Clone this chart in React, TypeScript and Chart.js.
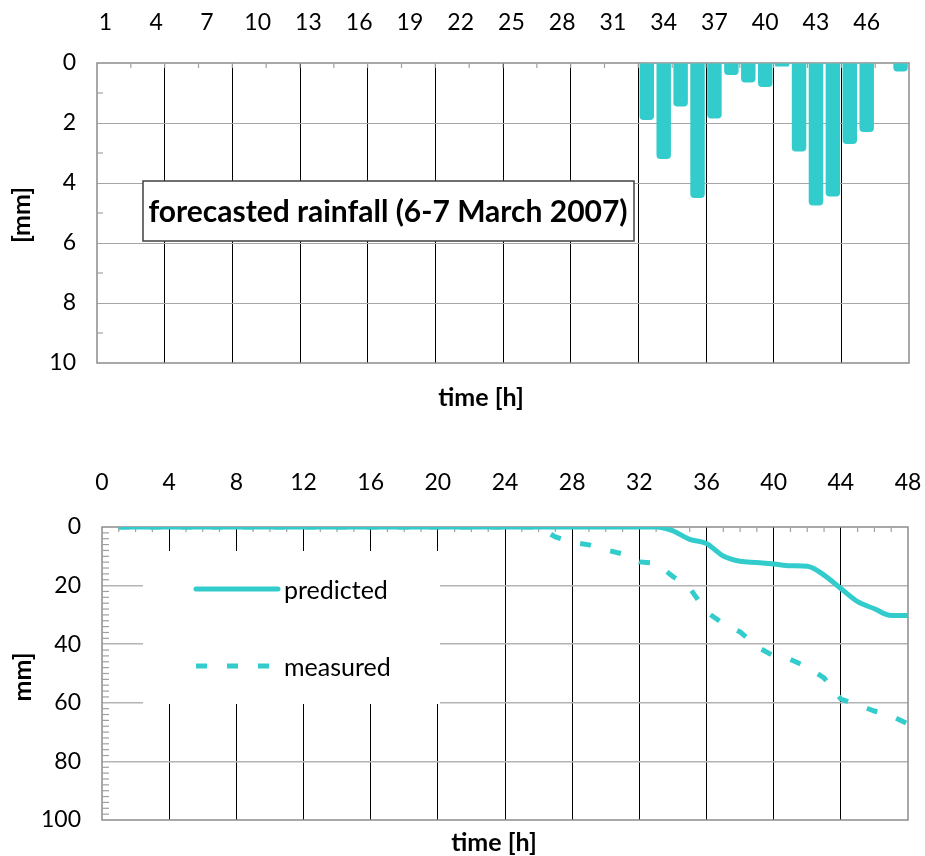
import { useEffect, useRef } from 'react';
import { Chart, registerables } from 'chart.js';

Chart.register(...registerables);

const FONT = 'Lato, "Open Sans", sans-serif';
const TEAL = '#33CCCC';
const FRAME = '#8c8c8c';

// hourly steps (6-7 March 2007)
const hourLabels = [
  '1', '2', '3', '4', '5', '6', '7', '8', '9', '10', '11', '12',
  '13', '14', '15', '16', '17', '18', '19', '20', '21', '22', '23', '24',
  '25', '26', '27', '28', '29', '30', '31', '32', '33', '34', '35', '36',
  '37', '38', '39', '40', '41', '42', '43', '44', '45', '46', '47', '48',
];
const hours = [
  1, 2, 3, 4, 5, 6, 7, 8, 9, 10, 11, 12,
  13, 14, 15, 16, 17, 18, 19, 20, 21, 22, 23, 24,
  25, 26, 27, 28, 29, 30, 31, 32, 33, 34, 35, 36,
  37, 38, 39, 40, 41, 42, 43, 44, 45, 46, 47, 48,
];

// forecasted hourly rainfall [mm]
const forecastRain = [
  0, 0, 0, 0, 0, 0, 0, 0, 0, 0, 0, 0,
  0, 0, 0, 0, 0, 0, 0, 0, 0, 0, 0, 0,
  0, 0, 0, 0, 0, 0, 0, 0, 1.9, 3.2, 1.45, 4.5,
  1.85, 0.4, 0.65, 0.8, 0.12, 2.95, 4.75, 4.45, 2.7, 2.3, 0, 0.28,
];

// cumulative rainfall [mm]
const predictedCum = [
  0, 0, 0, 0, 0, 0, 0, 0, 0, 0, 0, 0,
  0, 0, 0, 0, 0, 0, 0, 0, 0, 0, 0, 0,
  0, 0, 0, 0, 0, 0, 0, 0, 0, 1.3, 4.2, 5.6,
  9.9, 11.7, 12.1, 12.6, 13.2, 13.4, 16.4, 21.0, 25.5, 27.9, 30.2, 30.2,
];
const measuredCum = [
  0, 0, 0, 0, 0, 0, 0, 0, 0, 0, 0, 0,
  0, 0, 0, 0, 0, 0, 0, 0, 0, 0, 0, 0,
  0, 0, 3.4, 5.2, 6.1, 7.8, 9.2, 11.9, 12.4, 16.9, 20.8, 29.0,
  33.0, 35.8, 40.8, 44.0, 45.2, 47.8, 51.5, 58.7, 60.7, 62.8, 64.5, 67.2,
];

const tickFont = { family: FONT, size: 23 };
const CLEAR = 'rgba(0,0,0,0)';

function line(ctx: CanvasRenderingContext2D, x1: number, y1: number, x2: number, y2: number) {
  ctx.beginPath();
  ctx.moveTo(x1, y1);
  ctx.lineTo(x2, y2);
  ctx.stroke();
}

function drawFrame(chart: any) {
  const { ctx, chartArea: a } = chart;
  ctx.save();
  ctx.strokeStyle = FRAME;
  ctx.lineWidth = 1.5;
  ctx.strokeRect(a.left, a.top, a.right - a.left, a.bottom - a.top);
  ctx.restore();
}

function drawText(ctx: CanvasRenderingContext2D, text: string, x: number, y: number, size: number, rotate = false) {
  ctx.save();
  ctx.fillStyle = '#000';
  ctx.font = `bold ${size}px ${FONT}`;
  ctx.textAlign = 'center';
  ctx.textBaseline = 'middle';
  ctx.translate(x, y);
  if (rotate) ctx.rotate(-Math.PI / 2);
  ctx.fillText(text, 0, 0);
  ctx.restore();
}

// keep the plot edges fixed regardless of the end tick labels
const noEdgePadding = (s: any) => {
  s.paddingLeft = 0;
  s.paddingRight = 0;
};

// rainfall bars: frame, inner minor ticks, label box and axis titles
const rainDecor = {
  id: 'rainDecor',
  beforeDatasetsDraw(chart: any) {
    const { ctx, chartArea: a, scales } = chart;
    drawFrame(chart);
    ctx.save();
    ctx.strokeStyle = '#a0a0a0';
    ctx.lineWidth = 1.2;
    const step = (a.right - a.left) / hourLabels.length;
    for (let i = 2; i < hourLabels.length; i += 2) {
      const x = a.left + i * step;
      line(ctx, x, a.top, x, a.top + 5);
    }
    for (const v of [1, 3, 5, 7, 9]) {
      const y = scales.y.getPixelForValue(v);
      line(ctx, a.left, y, a.left + 6, y);
    }
    // caption box
    const bx = a.left + 46;
    const by = a.top + 118;
    ctx.fillStyle = '#fff';
    ctx.fillRect(bx, by, 491, 60);
    ctx.strokeStyle = '#404040';
    ctx.lineWidth = 1.5;
    ctx.strokeRect(bx, by, 491, 60);
    ctx.restore();
    drawText(ctx, 'forecasted rainfall (6-7 March 2007)', bx + 245, by + 31, 30);
  },
  afterDraw(chart: any) {
    const { ctx, chartArea: a } = chart;
    drawText(ctx, 'time [h]', a.left + 384, a.bottom + 35, 25);
    drawText(ctx, '[mm]', 22, (a.top + a.bottom) / 2 + 2, 25, true);
  },
};

// cumulative lines: frame, inner minor ticks, legend and axis titles
const cumDecor = {
  id: 'cumDecor',
  beforeDatasetsDraw(chart: any) {
    const { ctx, chartArea: a, scales } = chart;
    drawFrame(chart);
    ctx.save();
    ctx.strokeStyle = '#a0a0a0';
    ctx.lineWidth = 1.2;
    for (let h = 1; h < 48; h++) {
      if (h % 4 === 0) continue;
      const x = scales.x.getPixelForValue(h);
      line(ctx, x, a.top, x, a.top + 5);
    }
    for (let v = 2; v < 100; v += 2) {
      if (v % 20 === 0) continue;
      const y = scales.y.getPixelForValue(v);
      line(ctx, a.left, y, a.left + 7, y);
    }
    // legend
    const lx = a.left + 41;
    const ly = a.top + 24;
    ctx.fillStyle = '#fff';
    ctx.fillRect(lx, ly, 297, 153);
    chart.data.datasets.forEach((ds: any, i: number) => {
      const y = a.top + 62 + i * 77;
      ctx.save();
      ctx.strokeStyle = ds.borderColor;
      ctx.lineWidth = ds.borderWidth;
      ctx.lineCap = ds.borderDash ? 'butt' : 'round';
      ctx.setLineDash(ds.borderDash || []);
      line(ctx, a.left + 94, y, a.left + (ds.borderDash ? 168 : 176), y);
      ctx.restore();
      ctx.fillStyle = '#000';
      ctx.font = `25px ${FONT}`;
      ctx.textAlign = 'left';
      ctx.textBaseline = 'middle';
      ctx.fillText(ds.label, a.left + 182, y + 2);
    });
    ctx.restore();
  },
  afterDraw(chart: any) {
    const { ctx, chartArea: a } = chart;
    drawText(ctx, 'time [h]', a.left + 392, a.bottom + 23, 25);
    drawText(ctx, 'mm]', 23, a.top + 150, 25, true);
  },
};

function RainChart() {
  const ref = useRef<HTMLCanvasElement>(null);
  useEffect(() => {
    const chart = new Chart(ref.current!, {
      type: 'bar',
      data: {
        labels: hourLabels,
        datasets: [
          {
            label: 'forecasted rainfall',
            data: forecastRain,
            backgroundColor: TEAL,
            barPercentage: 0.95,
            categoryPercentage: 0.9,
            borderRadius: 4,
            borderSkipped: 'start',
          },
        ],
      },
      options: {
        responsive: false,
        animation: false,
        layout: { padding: { left: 0, right: 16, top: 0, bottom: 62 } },
        plugins: { legend: { display: false }, tooltip: { enabled: false } },
        scales: {
          x: {
            type: 'category',
            position: 'top',
            offset: true,
            border: { display: false },
            grid: {
              offset: true,
              drawTicks: false,
              lineWidth: 1,
              color: (c: any) => (c.index % 4 === 0 && c.index > 0 && c.index < 48 ? '#000' : CLEAR),
            },
            ticks: {
              autoSkip: false,
              maxRotation: 0,
              padding: 27,
              color: '#000',
              font: tickFont,
              callback: (_v: any, i: number) => (i % 3 === 0 ? hourLabels[i] : ''),
            },
            afterFit: (s: any) => {
              s.height = 63;
              noEdgePadding(s);
            },
          },
          y: {
            type: 'linear',
            min: 0,
            max: 10,
            reverse: true,
            border: { display: false },
            grid: {
              drawTicks: false,
              lineWidth: 1,
              color: (c: any) => (c.tick && (c.tick.value === 0 || c.tick.value === 10) ? CLEAR : '#a6a6a6'),
            },
            ticks: { stepSize: 2, padding: 21, color: '#000', font: tickFont },
            afterFit: (s: any) => {
              s.width = 97;
              s.paddingTop = 0;
              s.paddingBottom = 0;
            },
          },
        },
      },
      plugins: [rainDecor],
    } as any);
    return () => chart.destroy();
  }, []);
  return <canvas ref={ref} width={925} height={425} style={{ position: 'absolute', left: 0, top: 0 }} />;
}

function CumulativeChart() {
  const ref = useRef<HTMLCanvasElement>(null);
  useEffect(() => {
    const chart = new Chart(ref.current!, {
      type: 'line',
      data: {
        datasets: [
          {
            label: 'predicted',
            data: hours.map((h, i) => ({ x: h, y: predictedCum[i] })),
            borderColor: TEAL,
            borderWidth: 5,
            pointRadius: 0,
            cubicInterpolationMode: 'monotone',
            fill: false,
          },
          {
            label: 'measured',
            data: hours.map((h, i) => ({ x: h, y: measuredCum[i] })),
            borderColor: TEAL,
            borderWidth: 5,
            borderDash: [11, 20],
            pointRadius: 0,
            fill: false,
          },
        ],
      },
      options: {
        responsive: false,
        animation: false,
        layout: { padding: { left: 0, right: 17, top: 0, bottom: 36 } },
        plugins: { legend: { display: false }, tooltip: { enabled: false } },
        scales: {
          x: {
            type: 'linear',
            position: 'top',
            min: 0,
            max: 48,
            border: { display: false },
            grid: {
              drawTicks: false,
              lineWidth: 1,
              color: (c: any) => (c.tick && (c.tick.value === 0 || c.tick.value === 48) ? CLEAR : '#000'),
            },
            ticks: { stepSize: 4, padding: 31, maxRotation: 0, color: '#000', font: tickFont },
            afterFit: (s: any) => {
              s.height = 97;
              noEdgePadding(s);
            },
          },
          y: {
            type: 'linear',
            min: 0,
            max: 100,
            reverse: true,
            border: { display: false },
            grid: {
              drawTicks: false,
              lineWidth: 1.5,
              color: (c: any) => (c.tick && (c.tick.value === 0 || c.tick.value === 100) ? CLEAR : '#b4b4b4'),
            },
            ticks: { stepSize: 20, padding: 21, color: '#000', font: tickFont },
            afterFit: (s: any) => {
              s.width = 102;
              s.paddingTop = 0;
              s.paddingBottom = 0;
            },
          },
        },
      },
      plugins: [cumDecor],
    } as any);
    return () => chart.destroy();
  }, []);
  return <canvas ref={ref} width={925} height={426} style={{ position: 'absolute', left: 0, top: 430 }} />;
}

export default function App() {
  useEffect(() => {
    document.body.style.margin = '0';
  }, []);
  return (
    <div style={{ position: 'relative', width: 925, height: 856, background: '#fff' }}>
      <RainChart />
      <CumulativeChart />
    </div>
  );
}
